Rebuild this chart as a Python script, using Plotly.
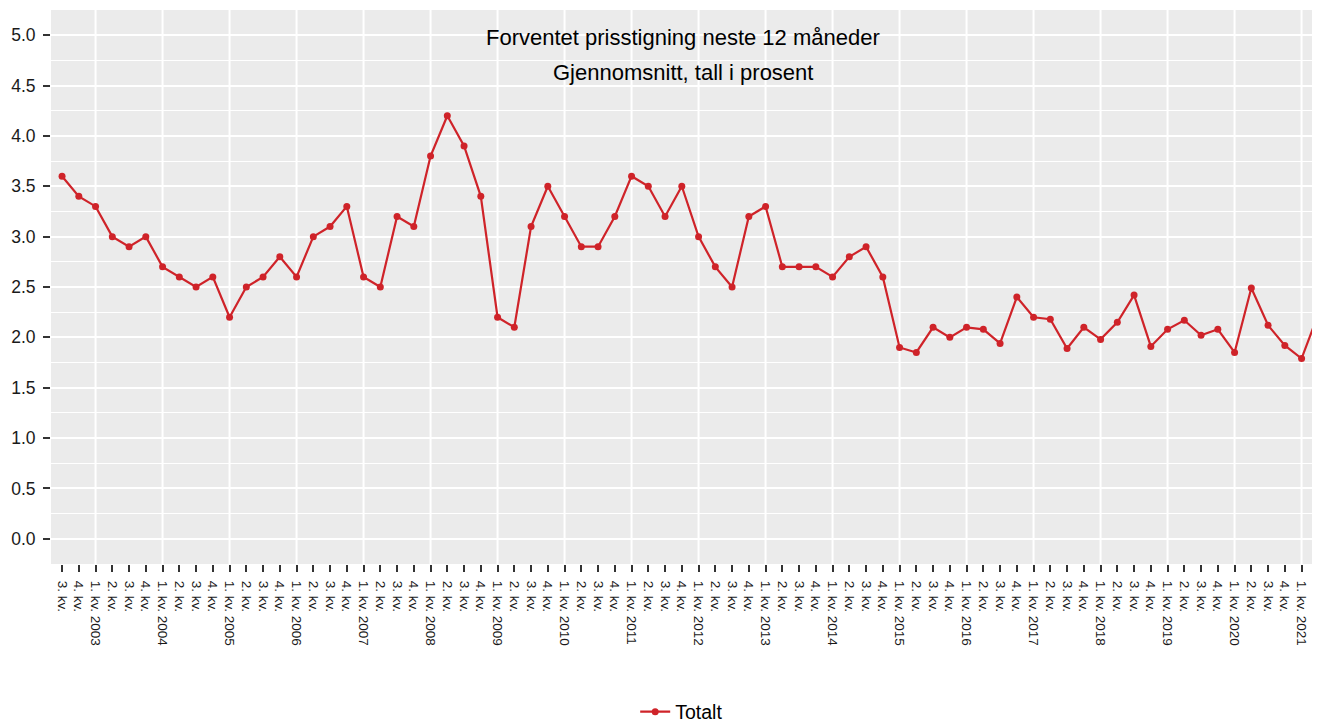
import plotly.graph_objects as go

# forventet prisstigning, gjennomsnitt (prosent), 3. kv. 2002 - 2. kv. 2021
start_aar = 2002
start_kv = 3
totalt = [3.6, 3.4,
          3.3, 3.0, 2.9, 3.0,
          2.7, 2.6, 2.5, 2.6,
          2.2, 2.5, 2.6, 2.8,
          2.6, 3.0, 3.1, 3.3,
          2.6, 2.5, 3.2, 3.1,
          3.8, 4.2, 3.9, 3.4,
          2.2, 2.1, 3.1, 3.5,
          3.2, 2.9, 2.9, 3.2,
          3.6, 3.5, 3.2, 3.5,
          3.0, 2.7, 2.5, 3.2,
          3.3, 2.7, 2.7, 2.7,
          2.6, 2.8, 2.9, 2.6,
          1.9, 1.85, 2.1, 2.0,
          2.1, 2.08, 1.94, 2.4,
          2.2, 2.18, 1.89, 2.1,
          1.98, 2.15, 2.42, 1.91,
          2.08, 2.17, 2.02, 2.08,
          1.85, 2.49, 2.12, 1.92,
          1.79, 2.23]

# kvartalsetiketter
etiketter = []
kv_nr = []
aar, kv = start_aar, start_kv
for _ in totalt:
    if kv == 1:
        etiketter.append(f'{kv}. kv. {aar}')
    else:
        etiketter.append(f'{kv}. kv.')
    kv_nr.append(kv)
    kv += 1
    if kv > 4:
        kv = 1
        aar += 1

x = list(range(len(totalt)))
rod = '#CF2329'
font = 'Arial, Liberation Sans, sans-serif'

fig = go.Figure()
fig.add_trace(go.Scatter(
    x=x, y=totalt, name='Totalt',
    mode='lines+markers',
    line=dict(color=rod, width=2.2),
    marker=dict(color=rod, size=7),
))

# vertikale rutenett ved hvert årsskifte (1. kv.)
for i, k in zip(x, kv_nr):
    if k == 1:
        fig.add_shape(type='line', xref='x', yref='paper', x0=i, x1=i, y0=0, y1=1,
                      line=dict(color='white', width=2), layer='below')

fig.add_annotation(text='Forventet prisstigning neste 12 måneder', xref='paper', yref='paper',
                   x=0.498, y=0.951, yanchor='middle', showarrow=False,
                   font=dict(size=22, color='black', family=font))
fig.add_annotation(text='Gjennomsnitt, tall i prosent', xref='paper', yref='paper',
                   x=0.498, y=0.888, yanchor='middle', showarrow=False,
                   font=dict(size=22, color='black', family=font))

# siden har 8 px marg i body, derfor litt mindre figur
fig.update_layout(
    width=1312, height=714,
    margin=dict(l=43, r=0, t=2, b=158),
    paper_bgcolor='white',
    plot_bgcolor='#EBEBEB',
    font=dict(family=font, color='#1A1A1A'),
    showlegend=True,
    legend=dict(orientation='h', xref='paper', x=0.497, xanchor='center',
                yref='container', y=0.014, yanchor='middle',
                font=dict(size=19.5, color='black')),
    xaxis=dict(
        range=[-0.66, 75.1], automargin=False,
        tickmode='array', tickvals=x, ticktext=etiketter,
        tickangle=90, tickfont=dict(size=13.5, color='#1A1A1A'),
        ticks='outside', ticklen=7, tickcolor='#333333', tickwidth=2,
        ticklabelstandoff=6,
        showgrid=False, zeroline=False,
    ),
    yaxis=dict(
        range=[-0.25, 5.25], automargin=False,
        tickmode='linear', tick0=0, dtick=0.5, tickformat='.1f',
        tickfont=dict(size=17.5, color='#1A1A1A'),
        ticks='outside', ticklen=7, tickcolor='#333333', tickwidth=2,
        ticklabelstandoff=4,
        showgrid=True, gridcolor='white', gridwidth=2,
        minor=dict(tick0=0, dtick=0.25, showgrid=True, gridcolor='white', gridwidth=1, ticks=''),
        zeroline=False,
    ),
)

fig.write_html("out.html")
